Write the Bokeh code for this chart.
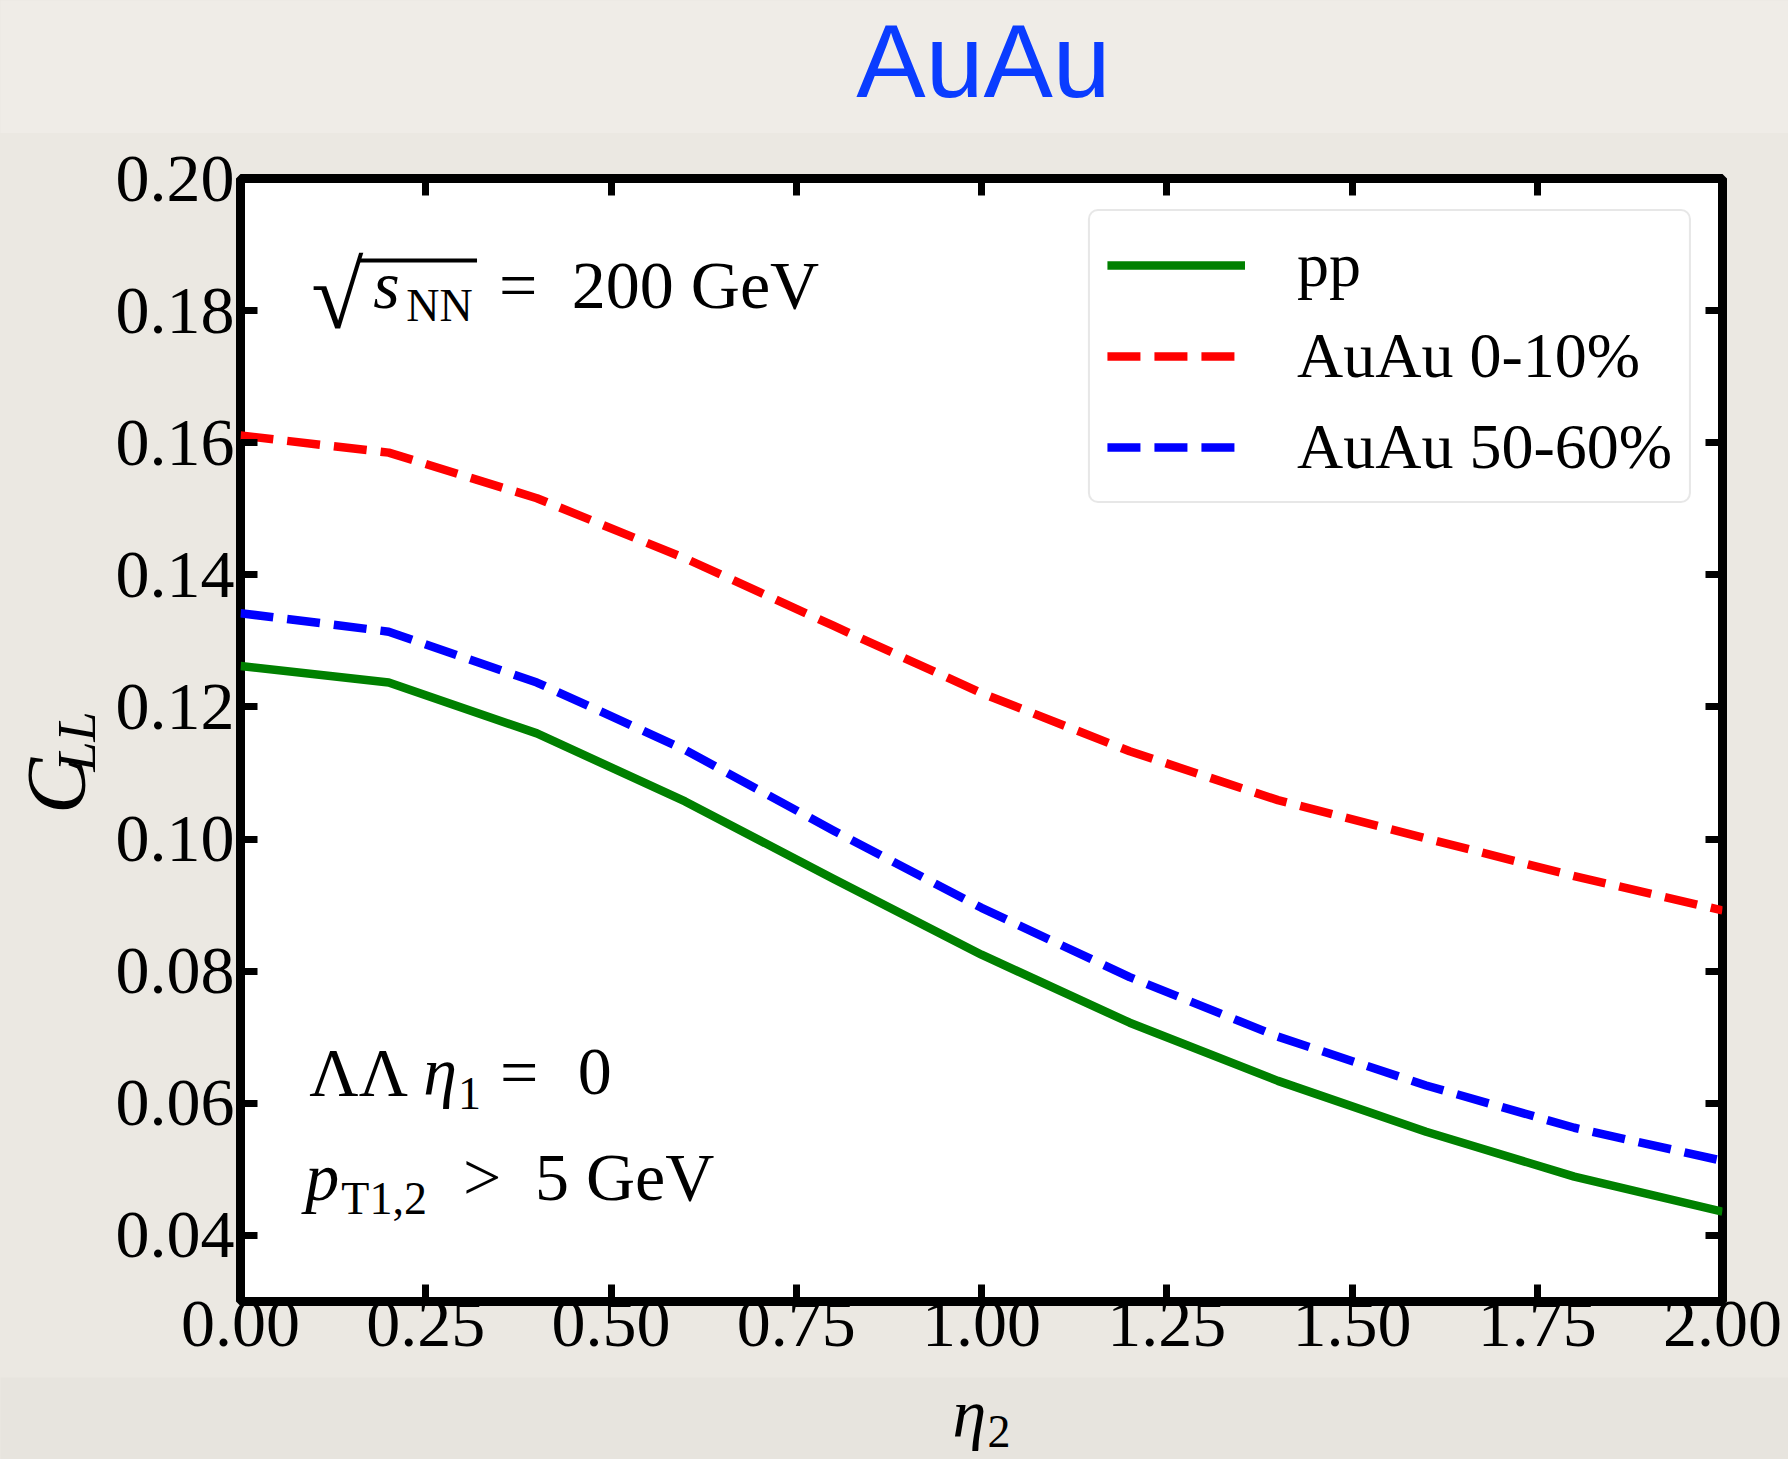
import math
from bokeh.plotting import figure
from bokeh.layouts import column, row
from bokeh.models import (Label, BoxAnnotation, FixedTicker, LinearAxis, Range1d,
                          Legend, LegendItem)
from bokeh.embed import file_html
from bokeh.resources import INLINE

# ---------------- data ----------------
eta2 = [0.0, 0.2, 0.4, 0.6, 0.8, 1.0, 1.2, 1.4, 1.6, 1.8, 2.0]
cll_pp = [0.1262, 0.1237, 0.1160, 0.1057, 0.0940, 0.0825, 0.0722, 0.0634, 0.0557, 0.0489, 0.0436]
cll_auau_0_10 = [0.1611, 0.1585, 0.1516, 0.1425, 0.1323, 0.1221, 0.1133, 0.1059, 0.1001, 0.0944, 0.0892]
cll_auau_50_60 = [0.1342, 0.1314, 0.1237, 0.1135, 0.1013, 0.0896, 0.0791, 0.0701, 0.0627, 0.0563, 0.0513]
series_labels = ["pp", "AuAu 0-10%", "AuAu 50-60%"]

x_ticks = [0.0, 0.25, 0.5, 0.75, 1.0, 1.25, 1.5, 1.75, 2.0]
x_tick_labels = ["0.00", "0.25", "0.50", "0.75", "1.00", "1.25", "1.50", "1.75", "2.00"]
y_ticks = [0.04, 0.06, 0.08, 0.10, 0.12, 0.14, 0.16, 0.18, 0.20]
y_tick_labels = ["0.04", "0.06", "0.08", "0.10", "0.12", "0.14", "0.16", "0.18", "0.20"]
X0, X1 = 0.0, 2.0
Y0, Y1 = 0.03, 0.20

# ---------------- page layout (global pixels) ----------------
W, H = 1788, 1459
FL, FR, FT, FB = 237, 1722, 178, 1301      # plot frame
TOP_H = 133                                 # title strip height
LEFT_W = 112                                # y-label strip width
MAIN_TOP_BORDER = FT - TOP_H                # 45
MAIN_BOTTOM_BORDER = 76
MAIN_H = MAIN_TOP_BORDER + (FB - FT) + MAIN_BOTTOM_BORDER
BOTTOM_Y = TOP_H + MAIN_H                   # global y where the x-label strip starts
BOTTOM_H = H - BOTTOM_Y
SERIF = "Liberation Serif"
BG_TOP, BG_MID, BG_BOT = "#efece7", "#ebe8e2", "#e7e4de"
BASE = 0.38   # alphabetic-baseline correction, in em

p = figure(width=W - LEFT_W, height=MAIN_H, output_backend="svg", toolbar_location=None,
           x_range=Range1d(X0, X1), y_range=Range1d(Y0, Y1),
           min_border_left=FL - LEFT_W, min_border_right=W - FR,
           min_border_top=MAIN_TOP_BORDER, min_border_bottom=MAIN_BOTTOM_BORDER,
           background_fill_color="white", border_fill_color=BG_MID)
p.grid.visible = False
p.outline_line_color = "black"
p.outline_line_width = 9
p.outline_line_alpha = 1.0

bottom_axis = p.below[0]
left_axis = p.left[0]
top_axis = LinearAxis()
right_axis = LinearAxis()
p.add_layout(top_axis, "above")
p.add_layout(right_axis, "right")

for ax in [bottom_axis, top_axis]:
    ax.ticker = FixedTicker(ticks=x_ticks)
    ax.major_label_overrides = dict(zip(x_ticks, x_tick_labels))
for ax in [left_axis, right_axis]:
    ax.ticker = FixedTicker(ticks=y_ticks)
    ax.major_label_overrides = dict(zip(y_ticks, y_tick_labels))

for ax in [bottom_axis, left_axis, top_axis, right_axis]:
    ax.axis_line_color = None
    ax.major_tick_in = 17
    ax.major_tick_out = 0
    ax.major_tick_line_width = 7
    ax.major_tick_line_color = "black"
    ax.minor_tick_line_color = None
    ax.major_label_text_font = SERIF
    ax.major_label_text_font_size = "68px"
    ax.major_label_text_color = "black"

for ax in [top_axis, right_axis]:
    ax.major_label_text_font_size = "0px"
    ax.major_label_text_alpha = 0
    ax.major_label_standoff = 0

bottom_axis.major_label_standoff = 0
left_axis.major_label_standoff = 6

# ---------------- curves ----------------
lw = 8.5
r_pp = p.line(eta2, cll_pp, line_color="#008000", line_width=lw, line_join="round")
r_c1 = p.line(eta2, cll_auau_0_10, line_color="#ff0000", line_width=lw,
              line_dash="33 14", line_join="round")
r_c2 = p.line(eta2, cll_auau_50_60, line_color="#0000ff", line_width=lw,
              line_dash="33 14", line_join="round")

legend = Legend(items=[LegendItem(label=series_labels[0], renderers=[r_pp]),
                       LegendItem(label=series_labels[1], renderers=[r_c1]),
                       LegendItem(label=series_labels[2], renderers=[r_c2])],
                location="top_right")
legend.label_text_font = SERIF
legend.label_text_font_size = "64px"
legend.label_text_color = "black"
legend.glyph_width = 138
legend.glyph_height = 74
legend.label_height = 74
legend.label_standoff = 52
legend.spacing = 17
legend.padding = 17
legend.margin = 31
legend.border_line_color = "#cfcfcf"
legend.border_line_width = 2.5
legend.background_fill_color = "white"
legend.background_fill_alpha = 1.0
if "border_radius" in Legend.properties():
    legend.border_radius = 10
p.add_layout(legend)


# ---------------- in-frame annotations ----------------
def dx(px):
    return X0 + (px - FL) / (FR - FL) * (X1 - X0)


def dy(py):
    return Y1 - (py - FT) / (FB - FT) * (Y1 - Y0)


def txt(fig, s, x, y, size, style="normal", font=SERIF, color="black", align="left",
        angle=0.0):
    fig.add_layout(Label(x=x, y=y, text=s, text_font=font,
                         text_font_size=f"{size}px", text_font_style=style,
                         text_color=color, text_align=align,
                         text_baseline="alphabetic", angle=angle))


def ftxt(s, px, base_y, size, style="normal"):
    # base_y: wanted baseline, global pixels
    txt(p, s, dx(px), dy(base_y - BASE * size), size, style=style)


# sqrt(s_NN) = 200 GeV
txt(p, "\u221a", dx(308), dy(295), 95)
p.add_layout(BoxAnnotation(left=dx(356), right=dx(474), top=dy(258), bottom=dy(262),
                           fill_color="black", fill_alpha=1.0, line_color=None))
ftxt("s", 370, 310, 68, style="italic")
ftxt("NN", 403, 322, 46)
ftxt("=", 496, 310, 68)
ftxt("200 GeV", 569, 310, 68)

# Lambda Lambda eta_1 = 0
ftxt("\u039b\u039b", 306, 1097, 68)
ftxt("\u03b7", 420, 1097, 68, style="italic")
ftxt("1", 455, 1110, 46)
ftxt("=", 497, 1097, 68)
ftxt("0", 575, 1097, 68)

# p_T1,2 > 5 GeV
ftxt("p", 302, 1202, 68, style="italic")
ftxt("T1,2", 338, 1215, 46)
ftxt(">", 460, 1202, 68)
ftxt("5 GeV", 532, 1202, 68)


# ---------------- strips around the plot (title, y label, x label) ----------------
def strip(w, h, bg):
    f = figure(width=w, height=h, output_backend="svg", toolbar_location=None,
               x_range=Range1d(0, w), y_range=Range1d(h, 0),
               x_axis_location=None, y_axis_location=None, min_border=0,
               background_fill_color=bg, border_fill_color=bg)
    f.outline_line_color = None
    f.grid.visible = False
    return f


top_fig = strip(W, TOP_H, BG_TOP)
txt(top_fig, "AuAu", 983, 100 - BASE * 104, 104, font="Liberation Sans",
    color="#0a3cff", align="center")

left_fig = strip(LEFT_W, MAIN_H, BG_MID)
txt(left_fig, "C", 88 - BASE * 84, 837 - TOP_H, 84, style="italic", angle=math.pi / 2)
txt(left_fig, "LL", 97 - BASE * 54, 790 - TOP_H, 54, style="italic", angle=math.pi / 2)

bottom_fig = strip(W, BOTTOM_H, BG_BOT)
txt(bottom_fig, "\u03b7", 952, 1439 - BOTTOM_Y - BASE * 68, 68, style="italic")
txt(bottom_fig, "2", 987, 1448 - BOTTOM_Y - BASE * 46, 46)

layout = column(top_fig,
                row(left_fig, p, spacing=0, styles={"background-color": BG_MID}),
                bottom_fig, spacing=0, styles={"background-color": BG_MID})

open("out.html", "w").write(file_html(layout, INLINE))
